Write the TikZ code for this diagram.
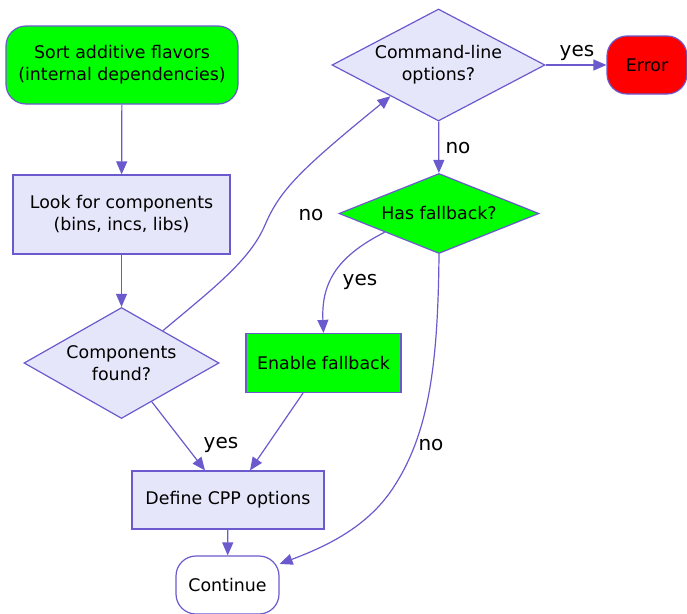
\documentclass[tikz,border=0pt]{standalone}
\usepackage{fontspec}
\setmainfont{DejaVu Sans}
\usepackage{xcolor}
\usepackage{tikz}
\usetikzlibrary{shapes.geometric,arrows.meta}
\definecolor{slateblue}{HTML}{6A5ACD}
\definecolor{lavender}{HTML}{E6E6FA}

\begin{document}
\begin{tikzpicture}[x=1pt, y=-1pt,
  every node/.style={font=\fontsize{17.4}{22}\selectfont, align=center, inner sep=0pt},
  box/.style={draw=slateblue, line width=1.2pt, rectangle},
  rbox/.style={box, rounded corners=20pt},
  test/.style={draw=slateblue, line width=1.2pt, diamond, aspect=2},
  edge/.style={slateblue, line width=1.2pt, -{Triangle[length=13pt,width=11pt]}},
  lbl/.style={font=\fontsize{20}{24}\selectfont}]
  \useasboundingbox (0,0) rectangle (687,613);

  \node[rbox, fill=green, minimum width=232pt, minimum height=78pt] (sort) at (122,65) {Sort additive flavors\\(internal dependencies)};
  \node[box, fill=lavender, minimum width=217pt, minimum height=79pt] (look) at (121.5,214.5) {Look for components\\(bins, incs, libs)};
  \node[test, fill=lavender, minimum width=195pt, minimum height=111pt] (comp) at (121.5,363) {Components\\found?};
  \node[test, fill=lavender, minimum width=213pt, minimum height=112pt] (cmd) at (438.5,65) {Command-line\\options?};
  \node[rbox, fill=red, minimum width=80pt, minimum height=58pt] (error) at (647,65) {Error};
  \node[test, fill=green, minimum width=200pt, minimum height=80pt] (hasfb) at (439,213.5) {Has fallback?};
  \node[box, fill=green, minimum width=155pt, minimum height=59pt] (enable) at (323.5,363) {Enable fallback};
  \node[box, fill=lavender, minimum width=192pt, minimum height=58pt] (define) at (228,500) {Define CPP options};
  \node[rbox, fill=white, minimum width=103pt, minimum height=58pt] (cont) at (227.5,585) {Continue};

  \draw[edge] (sort) -- (look);
  \draw[edge] (look) -- (comp);
  \draw[edge] (comp.38) .. controls (215,287) and (250,260) .. (265,225) .. controls (280,190) and (300,170) .. (cmd.213);
  \draw[edge] (cmd) -- (error);
  \draw[edge] (cmd) -- (hasfb);
  \draw[edge] (hasfb.199) .. controls (340,255) and (321,280) .. (enable.north);
  \draw[edge] (hasfb.south) .. controls (438,360) and (430,430) .. (395,485) .. controls (370,525) and (330,545) .. (cont.22);
  \draw[edge] (comp.-52) -- ([xshift=-23pt]define.north);
  \draw[edge] ([xshift=-20.5pt]enable.south) -- ([xshift=22pt]define.north);
  \draw[edge] (define) -- (cont);

  \node[lbl] (nocmd) at (311,215) {no};
  \node[lbl] (yeserr) at (577,53) {yes};
  \node[lbl] (nofb) at (458,148) {no};
  \node[lbl] (yesfb) at (360,282) {yes};
  \node[lbl] (nocont) at (431,445) {no};
  \node[lbl] (yesdef) at (221,445) {yes};
\end{tikzpicture}
\end{document}
